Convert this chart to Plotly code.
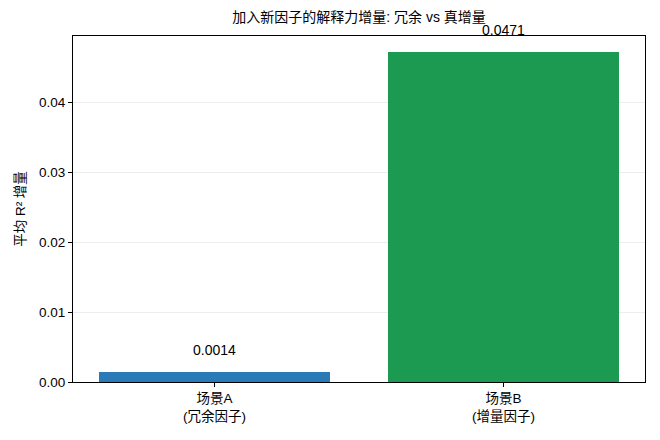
import plotly.graph_objects as go

categories = ["场景A<br>(冗余因子)", "场景B<br>(增量因子)"]
values = [0.0014, 0.0471]
labels = ["0.0014", "0.0471"]
colors = ["#2a7ab8", "#1d9a52"]
y_ticks = [0.0, 0.01, 0.02, 0.03, 0.04]
y_tick_text = ["0.00", "0.01", "0.02", "0.03", "0.04"]

FONT = "Liberation Sans, Arial, Noto Sans CJK SC, sans-serif"

xs = list(range(len(categories)))
fig = go.Figure()
fig.add_trace(go.Bar(x=xs, y=values, width=0.8, marker=dict(color=colors, line=dict(width=0)),
                     showlegend=False, hoverinfo="skip"))

for x, v, t in zip(xs, values, labels):
    fig.add_annotation(x=x, y=v, text=t, showarrow=False, yanchor="bottom", yshift=12,
                       font=dict(size=14, color="black", family=FONT))

ymax = max(values) * 1.05
fig.update_layout(
    width=660, height=440,
    margin=dict(l=73, r=15, t=36, b=58),
    paper_bgcolor="white", plot_bgcolor="white",
    font=dict(family=FONT, size=14, color="black"),
    title=dict(text="加入新因子的解释力增量: 冗余 vs 真增量", x=(73 + 645) / 2 / 660, xanchor="center",
               y=1 - 22 / 440, yanchor="bottom", font=dict(size=14, family=FONT)),
    bargap=0,
)
fig.update_xaxes(range=[-0.49, 1.49], tickvals=xs, ticktext=categories, showline=True, linecolor="black",
                 linewidth=1, mirror=True, ticks="outside", ticklen=4, tickcolor="black", showgrid=False,
                 zeroline=False, tickfont=dict(size=13.5))
fig.update_yaxes(range=[0, ymax], tickvals=y_ticks, ticktext=y_tick_text, showline=True, linecolor="black",
                 linewidth=1, mirror=True, ticks="outside", ticklen=4, tickcolor="black", showgrid=True,
                 gridcolor="rgba(0,0,0,0.07)", gridwidth=1, zeroline=False, tickfont=dict(size=13.5),
                 title=dict(text="平均 R² 增量", font=dict(size=13.5), standoff=10))

fig.write_html("out.html")
